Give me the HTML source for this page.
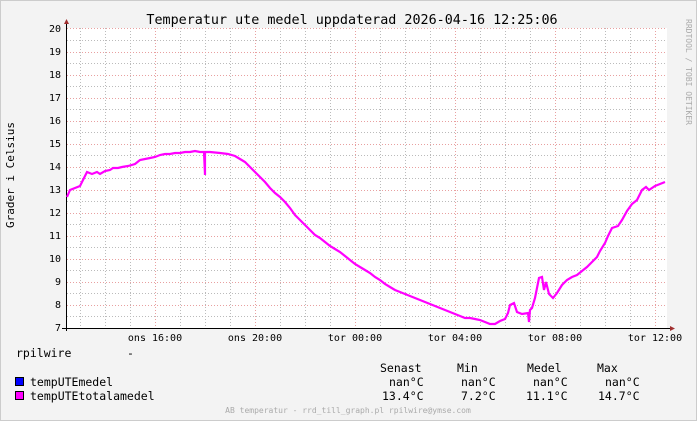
<!DOCTYPE html><html><head><style>body{margin:0;background:#f3f3f3}svg{display:block}text{font-family:"DejaVu Sans Mono","Liberation Mono",monospace;fill:#000}</style></head><body>
<svg width="697" height="421" viewBox="0 0 697 421" xmlns="http://www.w3.org/2000/svg">
<rect x="0" y="0" width="697" height="421" fill="#f3f3f3"/>
<rect x="0.5" y="0.5" width="696" height="420" fill="none" stroke="#ccc"/>
<rect x="67" y="28" width="600" height="300" fill="#fff"/>
<g stroke="#bbb" stroke-width="1" stroke-dasharray="1,2">
<path d="M67 316.5H667M67 293.5H667M67 270.5H667M67 247.5H667M67 224.5H667M67 201.5H667M67 178.5H667M67 155.5H667M67 132.5H667M67 109.5H667M67 86.5H667M67 63.5H667M67 40.5H667"/>
<path d="M80.5 28V328M105.5 28V328M130.5 28V328M180.5 28V328M205.5 28V328M230.5 28V328M280.5 28V328M305.5 28V328M330.5 28V328M380.5 28V328M405.5 28V328M430.5 28V328M480.5 28V328M505.5 28V328M530.5 28V328M580.5 28V328M605.5 28V328M630.5 28V328"/>
</g>
<g stroke="#e8a0a0" stroke-width="1" stroke-dasharray="1,2">
<path d="M67 305.5H667M67 282.5H667M67 259.5H667M67 236.5H667M67 213.5H667M67 190.5H667M67 167.5H667M67 144.5H667M67 121.5H667M67 98.5H667M67 75.5H667M67 52.5H667M67 28.5H667"/>
<path d="M155.5 28V328M255.5 28V328M355.5 28V328M455.5 28V328M555.5 28V328M655.5 28V328"/>
</g>
<path d="M66.5 22V331M62 328.5H673" stroke="#000" fill="none"/>
<path d="M64 24L66.5 19L69 24Z" fill="#a03030"/>
<path d="M670 326L675 328.5L670 331Z" fill="#a03030"/>
<polyline fill="none" stroke="#ff00ff" stroke-width="2.2" points="67,197 70,190 75,188 80,186 83,180 87,172 92,174 97,172 100,174 105,171 110,170 113,168 118,168 122,167 128,166 135,164 140,160 150,158 155,157 160,155 165,154 170,154 175,153 180,153 185,152 190,152 195,151 200,152 204,152 205,175 205,152 210,152 220,153 228,154 235,156 240,159 245,162 250,167 255,172 260,177 265,182 270,188 275,193 280,197 285,202 290,208 295,215 300,220 305,225 310,230 315,235 320,238 325,242 330,246 335,249 340,252 345,256 350,260 355,264 360,267 365,270 370,273 375,277 380,280 385,284 390,287 395,290 400,292 405,294 410,296 415,298 420,300 425,302 430,304 435,306 440,308 445,310 450,312 455,314 460,316 465,318 470,318 475,319 480,320 485,322 490,324 495,324 500,321 505,319 508,313 510,305 514,303 517,312 522,314 528,313 529,322 530,310 532,308 535,298 539,278 542,277 544,290 546,282 549,294 553,298 557,293 562,285 567,280 572,277 577,275 582,271 587,267 592,262 597,257 600,251 605,243 608,236 612,228 618,226 622,220 627,211 632,204 637,200 642,190 646,187 649,190 655,186 660,184 665,182"/>
<text x="352" y="24" font-size="13.4" text-anchor="middle">Temperatur ute medel uppdaterad 2026-04-16 12:25:06</text>
<g font-size="10" text-anchor="end">
<text x="61" y="331">7</text><text x="61" y="308">8</text><text x="61" y="285">9</text><text x="61" y="262">10</text><text x="61" y="239">11</text><text x="61" y="216">12</text><text x="61" y="193">13</text><text x="61" y="170">14</text><text x="61" y="147">15</text><text x="61" y="124">16</text><text x="61" y="101">17</text><text x="61" y="78">18</text><text x="61" y="55">19</text><text x="61" y="32">20</text>
</g>
<g font-size="10" text-anchor="middle">
<text x="155" y="341">ons 16:00</text><text x="255" y="341">ons 20:00</text><text x="355" y="341">tor 00:00</text><text x="455" y="341">tor 04:00</text><text x="555" y="341">tor 08:00</text><text x="655" y="341">tor 12:00</text>
</g>
<text x="14" y="175" font-size="11" text-anchor="middle" transform="rotate(-90 14 175)">Grader i Celsius</text>
<text x="686" y="72" font-size="8" style="fill:#aaa" text-anchor="middle" transform="rotate(90 686 72)">RRDTOOL / TOBI OETIKER</text>
<g font-size="11.5">
<text x="16" y="357">rpilwire</text><text x="127" y="357">-</text>
<text x="380" y="372">Senast</text><text x="457" y="372">Min</text><text x="527" y="372">Medel</text><text x="597" y="372">Max</text>
<text x="30" y="386">tempUTEmedel</text><text x="389" y="386">nan°C</text><text x="461" y="386">nan°C</text><text x="533" y="386">nan°C</text><text x="605" y="386">nan°C</text>
<text x="30" y="400">tempUTEtotalamedel</text><text x="382" y="400">13.4°C</text><text x="461" y="400">7.2°C</text><text x="526" y="400">11.1°C</text><text x="598" y="400">14.7°C</text>
</g>
<rect x="15.5" y="377.5" width="8" height="8" fill="#0000ff" stroke="#000"/>
<rect x="15.5" y="391.5" width="8" height="8" fill="#ff00ff" stroke="#000"/>
<text x="348" y="413" font-size="8" style="fill:#aaa" text-anchor="middle">AB temperatur - rrd_till_graph.pl rpilwire@ymse.com</text>
</svg></body></html>
